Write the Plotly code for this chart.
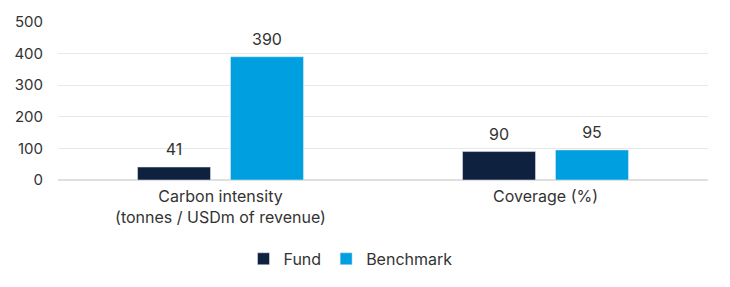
import plotly.graph_objects as go

categories = ["Carbon intensity<br>(tonnes / USDm of revenue)", "Coverage (%)"]
fund = [41, 90]
benchmark = [390, 95]
yticks = [0, 100, 200, 300, 400, 500]

font = "Inter, Lato, sans-serif"
label_tpl = "<span style='font-size:16px'>%{y}</span><br> "
fig = go.Figure()
fig.add_bar(x=categories, y=fund, name="Fund", marker_color="#0E2240",
            texttemplate=label_tpl, textposition="outside",
            textfont=dict(size=6, color="#333333"), cliponaxis=False)
fig.add_bar(x=categories, y=benchmark, name="Benchmark", marker_color="#009FE0",
            texttemplate=label_tpl, textposition="outside",
            textfont=dict(size=6, color="#333333"), cliponaxis=False)

fig.update_layout(
    width=730, height=287,
    margin=dict(l=58, r=22, t=22, b=107, autoexpand=False),
    barmode="group", bargap=0.428, bargroupgap=0.215,
    plot_bgcolor="white", paper_bgcolor="white",
    font=dict(family=font, color="#333333"),
    showlegend=True,
    legend=dict(orientation="h", x=0.45, xanchor="center",
                yref="container", y=0.098, yanchor="middle",
                font=dict(size=16, color="#333333"), itemwidth=30,
                traceorder="normal"),
)
fig.update_xaxes(tickfont=dict(size=16, color="#333333"), showline=False, ticks="",
                 automargin=False, ticklabelstandoff=5)
fig.update_yaxes(range=[0, 500], tickvals=yticks, tickfont=dict(size=15, color="#333333"),
                 showgrid=True, gridcolor="#E8E8E8", zeroline=True, zerolinecolor="#E0E0E0",
                 ticks="", ticklabelstandoff=14, automargin=False)
fig.write_html("out.html")
